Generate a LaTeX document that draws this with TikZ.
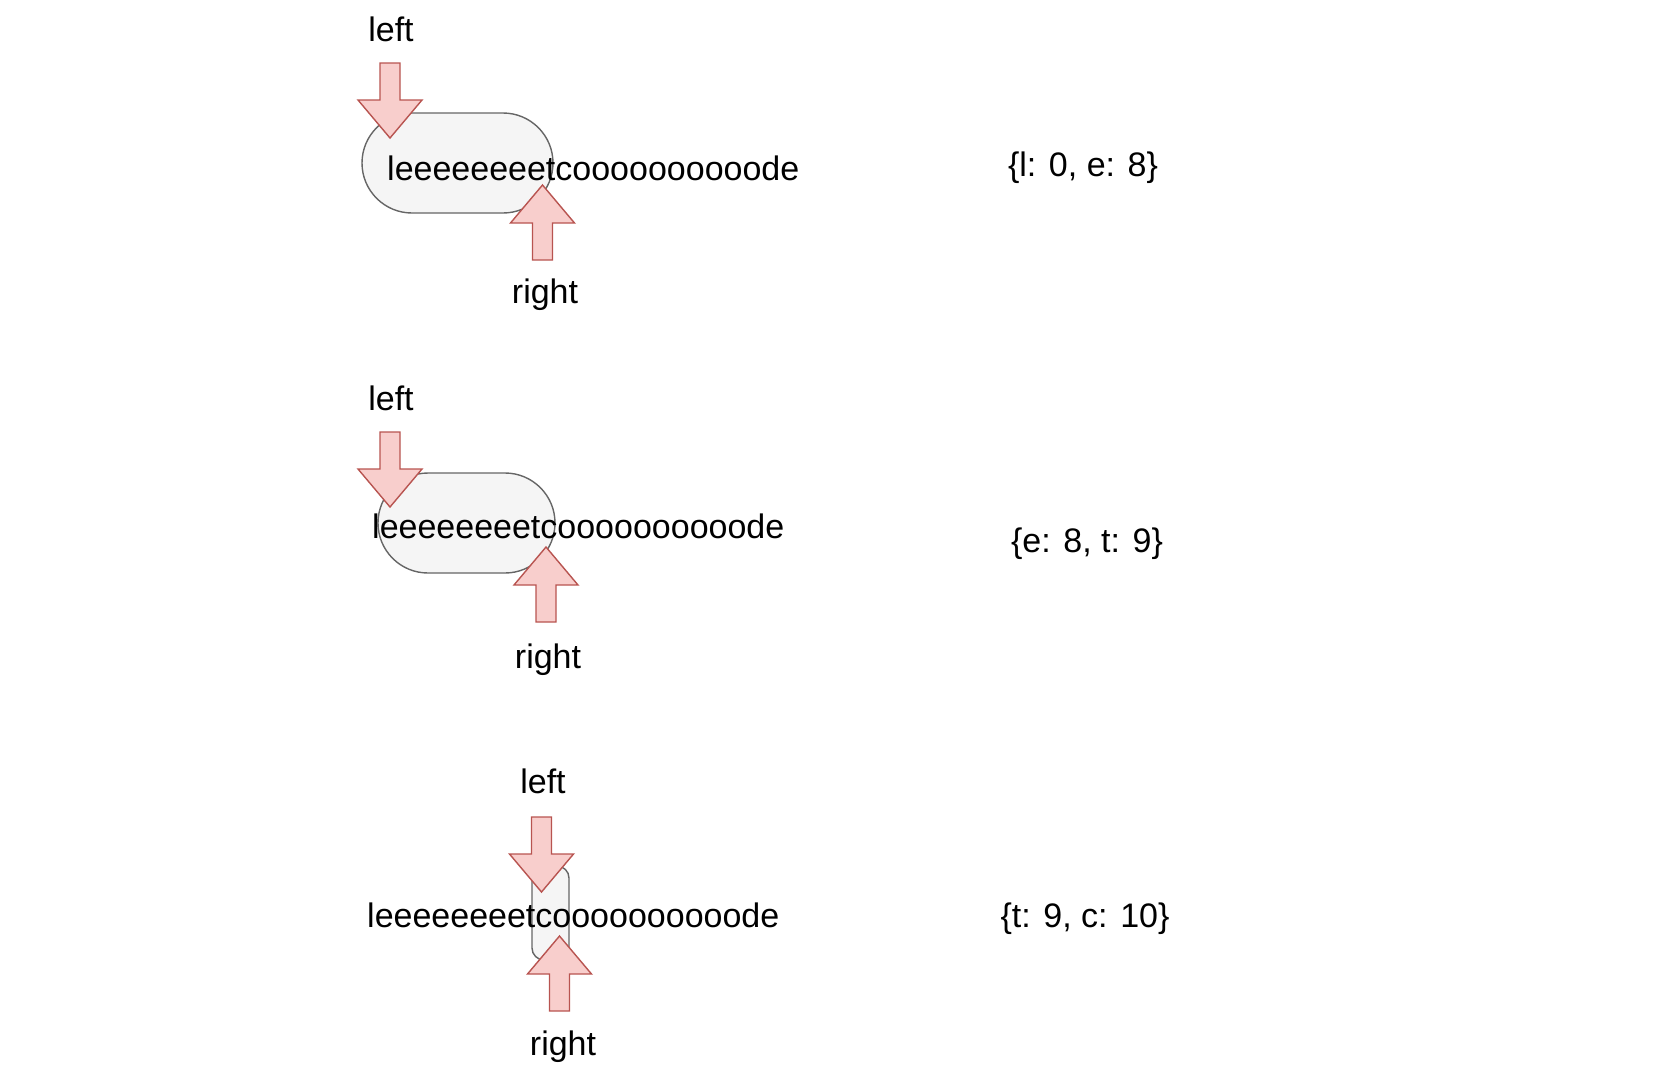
\documentclass[tikz,border=0pt]{standalone}
\usepackage{fontspec}
\setmainfont{Liberation Sans}
\definecolor{winfill}{HTML}{F5F5F5}
\definecolor{windraw}{HTML}{666666}
\definecolor{ptrfill}{HTML}{F8CECC}
\definecolor{ptrdraw}{HTML}{B85450}
\tikzset{
  window/.style={draw=windraw, fill=winfill, line width=1.4pt, inner sep=0pt},
  ptrline/.style={draw=ptrdraw, fill=ptrfill, line width=1.4pt},
  pics/ptr/.style={code={
    \draw[ptrline] (-10,0) -- (-10,37) -- (-32,37) -- (0,75) -- (32,37) -- (10,37) -- (10,0) -- cycle;
  }},
  word/.style={font=\fontsize{34}{40}\selectfont, inner sep=0pt},
}
\begin{document}
\begin{tikzpicture}[x=1pt, y=-1pt]
\useasboundingbox (0,0) rectangle (1662,1088);
\node[window, rounded corners=50pt, minimum width=191pt, minimum height=100pt] (win1) at (457.5,163) {};
\node[window, rounded corners=50pt, minimum width=177pt, minimum height=100pt] (win2) at (466.5,523) {};
\node[window, rounded corners=12pt, minimum width=37pt, minimum height=94pt] (win3) at (550.5,913) {};
\node[word, anchor=base west] (str1) at (387,180) {leeeeeeeetcoooooooooode};
\node[word, anchor=base west] (str2) at (372,538) {leeeeeeeetcoooooooooode};
\node[word, anchor=base west] (str3) at (367,927) {leeeeeeeetcoooooooooode};
\node[word] (left1) at (391,29) {left};
\node[word] (left2) at (391,398) {left};
\node[word] (left3) at (543,781) {left};
\node[word] (right1) at (545,295) {right};
\node[word] (right2) at (548,660) {right};
\node[word] (right3) at (563,1047) {right};
\pic (lp1) at (390,63) {ptr};
\pic (lp2) at (390,432) {ptr};
\pic (lp3) at (541.5,817) {ptr};
\pic[rotate=180] (rp1) at (542.5,260) {ptr};
\pic[rotate=180] (rp2) at (546,622) {ptr};
\pic[rotate=180] (rp3) at (559.5,1011) {ptr};
\node[word] (map1) at (1083,168) {\{l: 0, e: 8\}};
\node[word] (map2) at (1087,544) {\{e: 8, t: 9\}};
\node[word] (map3) at (1085,919) {\{t: 9, c: 10\}};
\end{tikzpicture}
\end{document}
